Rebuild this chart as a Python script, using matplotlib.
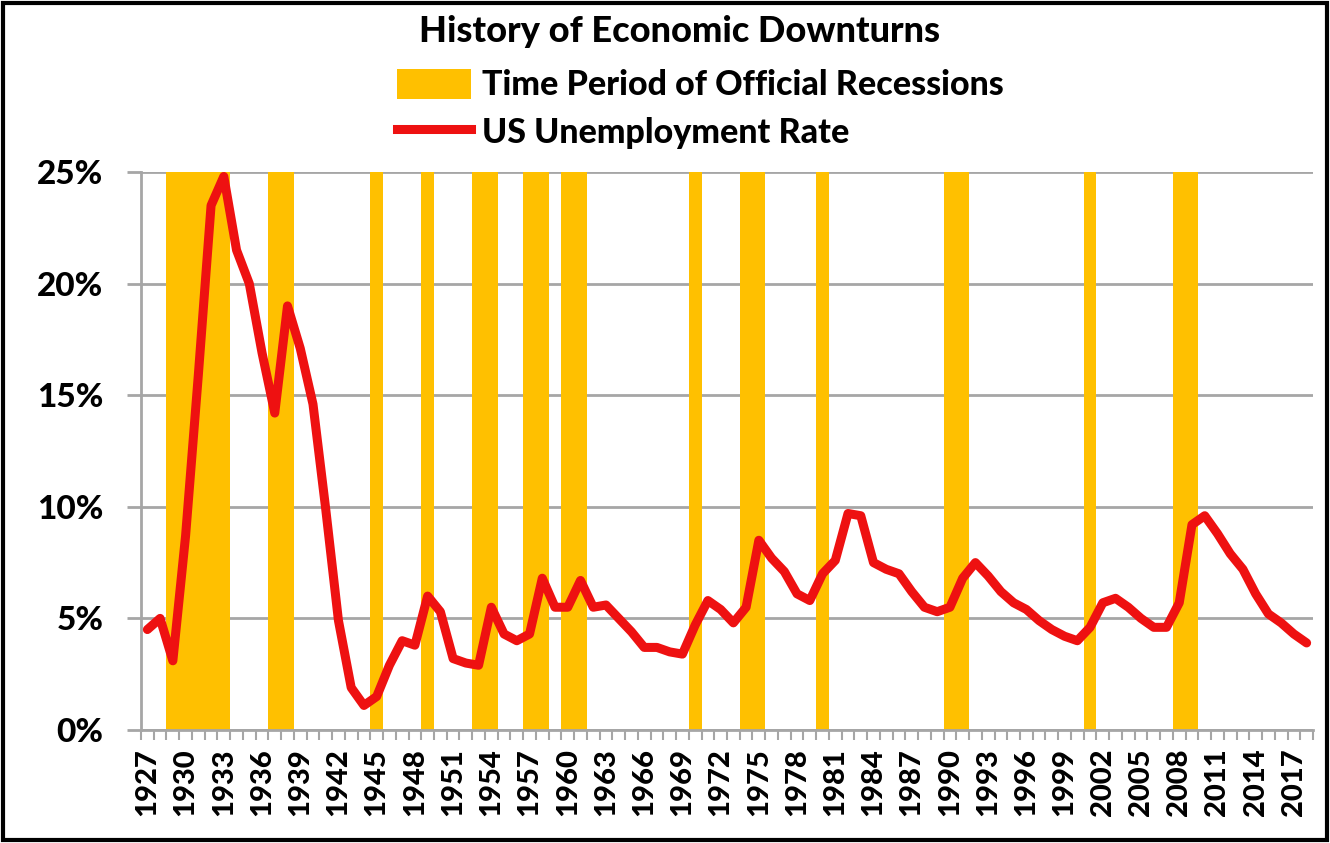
import matplotlib
matplotlib.use("Agg")
import matplotlib.pyplot as plt
from matplotlib.patches import Rectangle, Patch
from matplotlib.lines import Line2D
from matplotlib.ticker import FixedLocator, FuncFormatter

plt.rcParams['font.family'] = ['Lato', 'DejaVu Sans']

years = list(range(1927, 2019))
unemployment = [
    4.5, 5.0, 3.1, 8.7, 15.9, 23.5, 24.8, 21.5, 20.0, 16.9,   # 1927-1936
    14.2, 19.0, 17.1, 14.6, 9.9, 4.9, 1.9, 1.1, 1.5, 2.9,     # 1937-1946
    4.0, 3.8, 6.0, 5.3, 3.2, 3.0, 2.9, 5.5, 4.3, 4.0,         # 1947-1956
    4.3, 6.8, 5.5, 5.5, 6.7, 5.5, 5.6, 5.0, 4.4, 3.7,         # 1957-1966
    3.7, 3.5, 3.4, 4.7, 5.8, 5.4, 4.8, 5.5, 8.5, 7.7,         # 1967-1976
    7.1, 6.1, 5.8, 7.0, 7.6, 9.7, 9.6, 7.5, 7.2, 7.0,         # 1977-1986
    6.2, 5.5, 5.3, 5.5, 6.8, 7.5, 6.9, 6.2, 5.7, 5.4,         # 1987-1996
    4.9, 4.5, 4.2, 4.0, 4.6, 5.7, 5.9, 5.5, 5.0, 4.6,         # 1997-2006
    4.6, 5.7, 9.2, 9.6, 8.8, 7.9, 7.2, 6.1, 5.2, 4.8,         # 2007-2016
    4.3, 3.9,                                                 # 2017-2018
]
recession_years = [1929, 1930, 1931, 1932, 1933, 1937, 1938, 1945, 1949,
                   1953, 1954, 1957, 1958, 1960, 1961, 1970, 1974, 1975,
                   1980, 1990, 1991, 2001, 2008, 2009]
recession_height = [25] * len(recession_years)
y_ticks = [0, 5, 10, 15, 20, 25]
x_label_years = list(range(1927, 2019, 3))

title = "History of Economic Downturns"
recession_label = "Time Period of Official Recessions"
line_label = "US Unemployment Rate"

W, H = 1330, 843
fig = plt.figure(figsize=(W / 100, H / 100), dpi=100)
ax = fig.add_axes([141 / W, 1 - 730 / H, 1172 / W, 558 / H])

gold = '#FFC000'
red = '#EE1111'
grid = '#A6A6A6'
WEIGHT = 'black'

ax.bar(recession_years, recession_height, width=1.0, color=gold,
       edgecolor='none', zorder=1)
ax.plot(years, unemployment, color=red, lw=6.5, solid_joinstyle='round',
        solid_capstyle='round', zorder=3)

ax.set_xlim(1926.5, 2018.5)
ax.set_ylim(0, 25)

ax.yaxis.set_major_locator(FixedLocator(y_ticks))
ax.yaxis.set_major_formatter(FuncFormatter(lambda v, p: f"{v:.0f}%"))
ax.grid(axis='y', color=grid, lw=2, zorder=0)
ax.set_axisbelow(True)

ax.xaxis.set_major_locator(FixedLocator(x_label_years))
ax.xaxis.set_minor_locator(FixedLocator([y - 0.5 for y in years] + [2018.5]))
ax.tick_params(axis='x', which='major', length=0, pad=13, labelrotation=90,
               labelsize=21)
ax.tick_params(axis='x', which='minor', length=7, width=1.5, color=grid)
ax.tick_params(axis='y', which='major', length=10, width=2, color=grid,
               labelsize=24, pad=17)
for lab in ax.get_xticklabels() + ax.get_yticklabels():
    lab.set_fontweight(WEIGHT)

for s in ['top', 'right']:
    ax.spines[s].set_visible(False)
for s in ['left', 'bottom']:
    ax.spines[s].set_color(grid)
    ax.spines[s].set_linewidth(2)

fig.text(680 / W, 1 - 31 / H, title, ha='center', va='center',
         fontsize=26, fontweight=WEIGHT)

handles = [Patch(facecolor=gold, edgecolor='none'),
           Line2D([0], [0], color=red, lw=6.5)]
leg = fig.legend(handles, [recession_label, line_label],
                 loc='upper left', bbox_to_anchor=(383 / W, 1 - 55 / H),
                 frameon=False, handlelength=2.2, handleheight=1.0,
                 handletextpad=0.3, labelspacing=0.42, borderaxespad=0,
                 prop={'weight': WEIGHT, 'size': 24.5})

fig.patches.append(Rectangle((0.002, 0.004), 0.996, 0.993,
                             transform=fig.transFigure, fill=False,
                             edgecolor='black', lw=3))

fig.savefig("out.png", dpi=100)
